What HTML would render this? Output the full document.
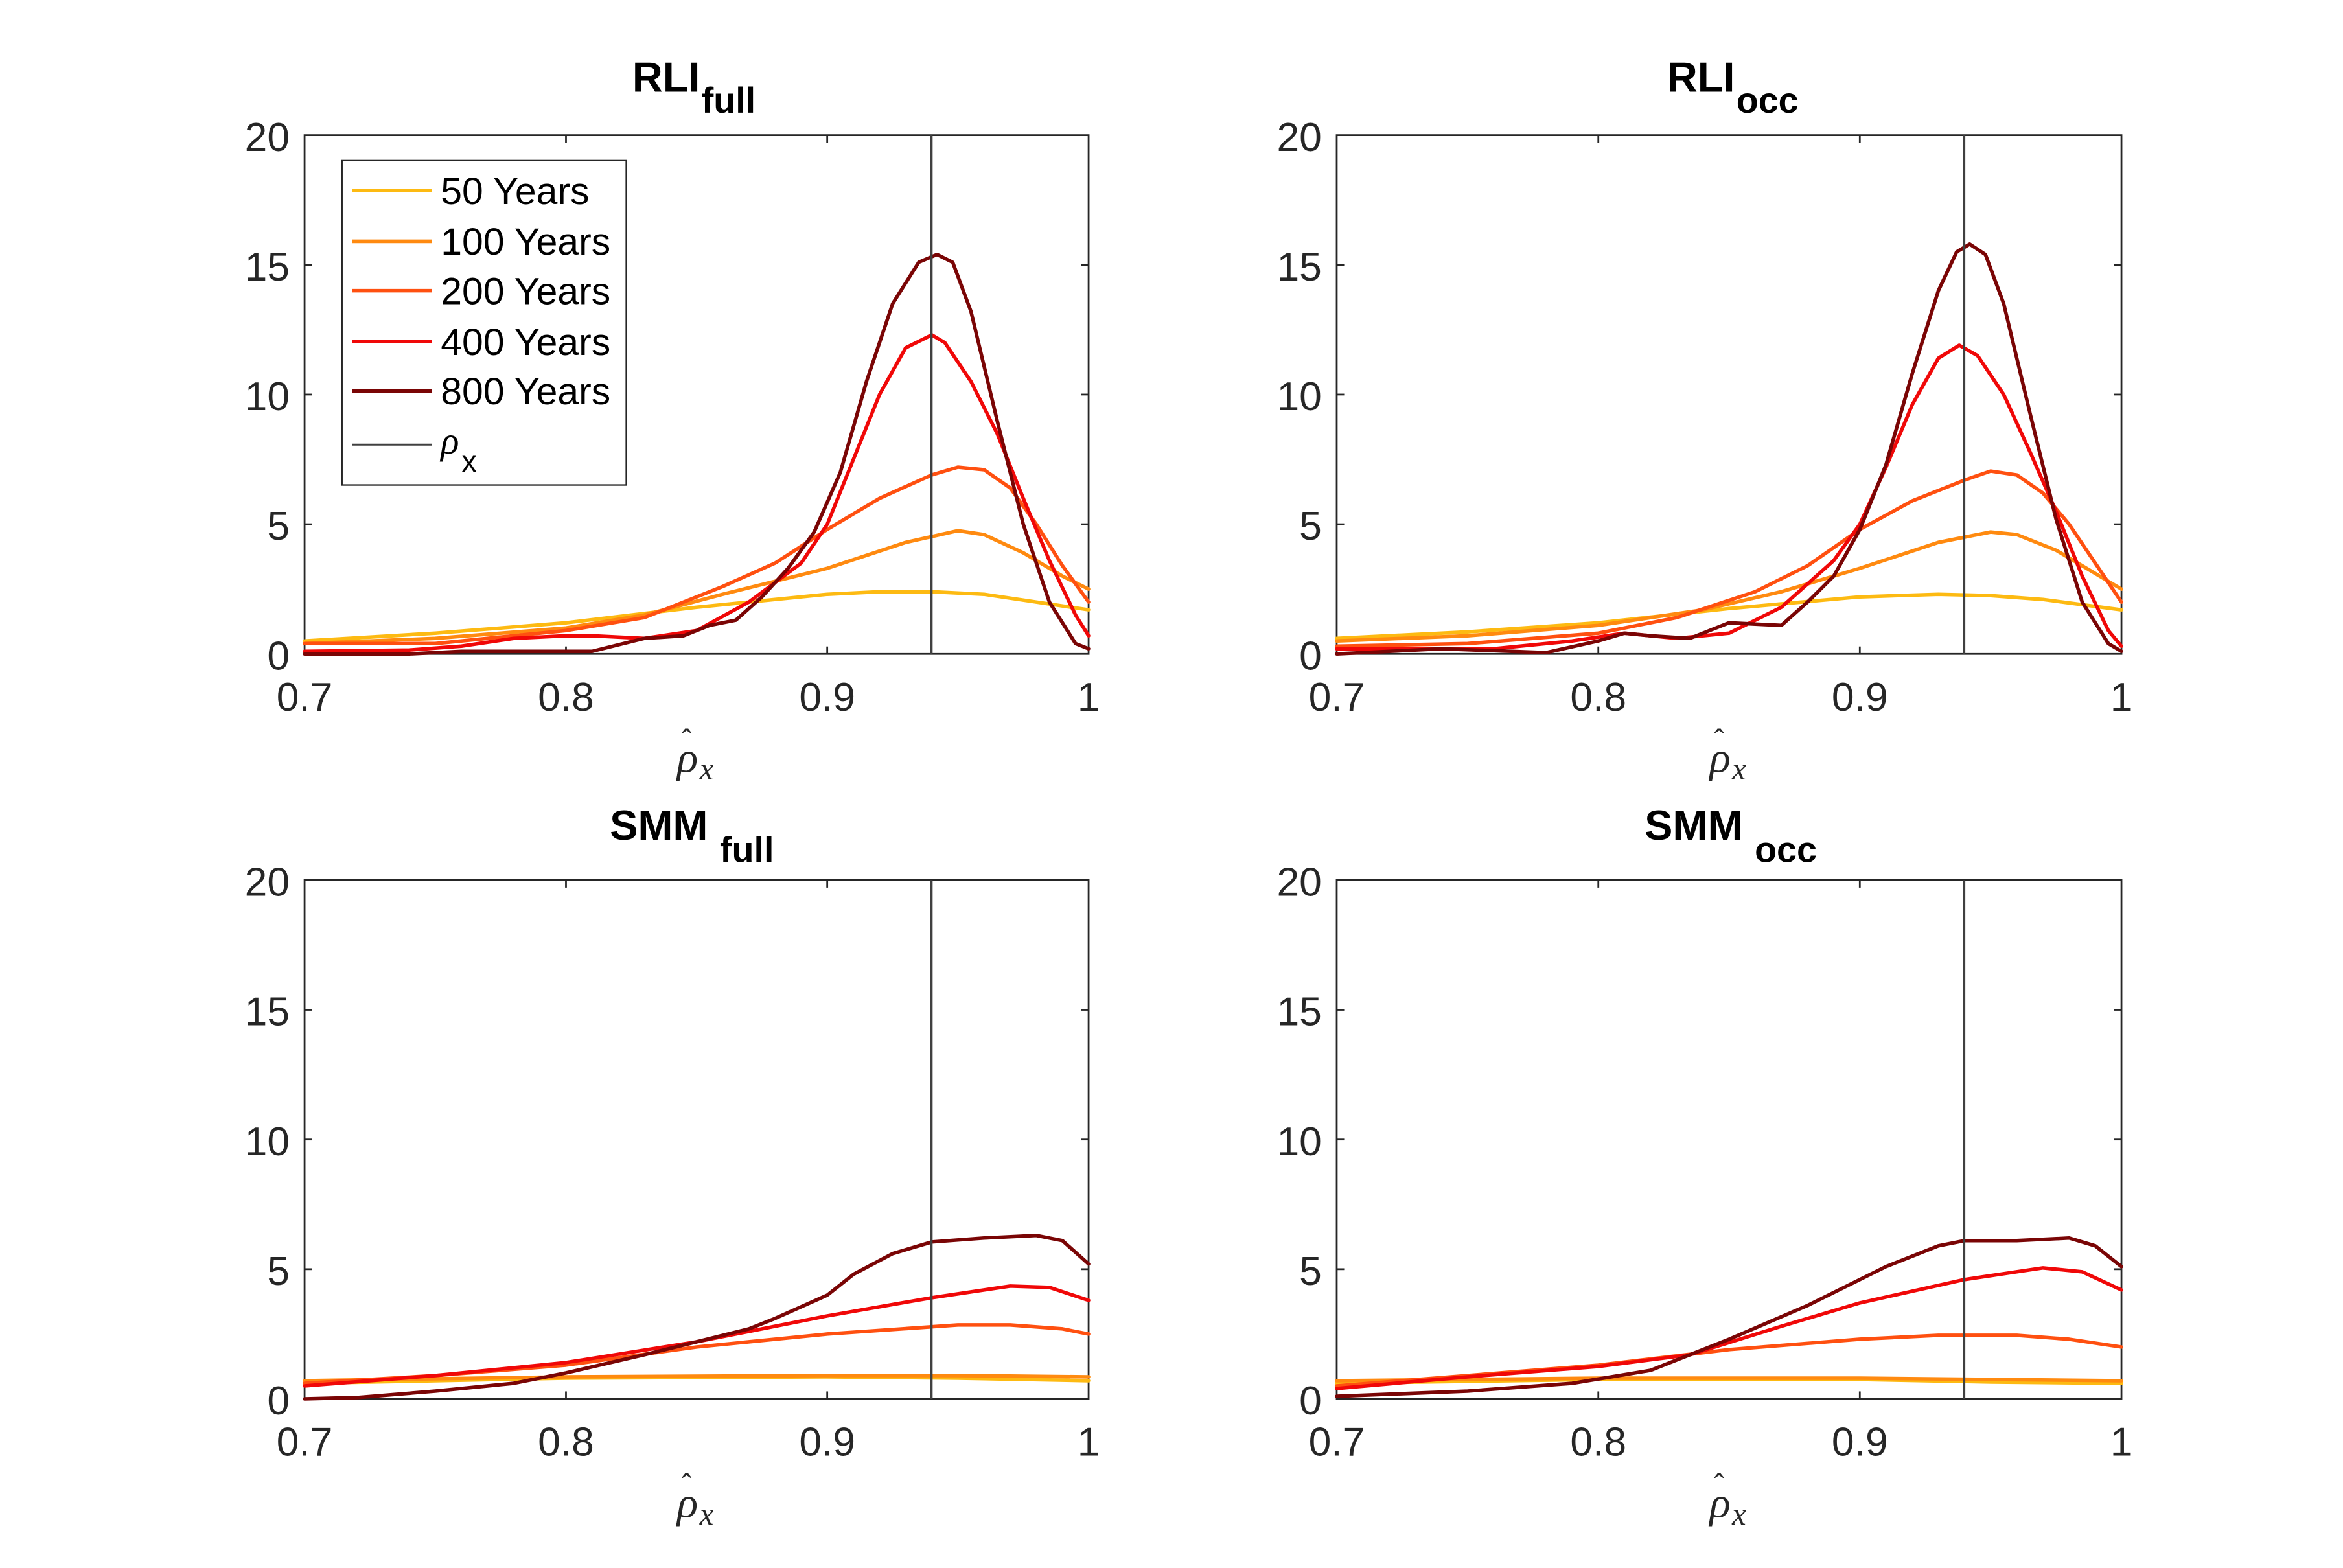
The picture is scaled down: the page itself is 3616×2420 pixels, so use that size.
<!DOCTYPE html>
<html><head><meta charset="utf-8"><style>html,body{margin:0;padding:0;background:#fff}svg{display:block}</style></head>
<body>
<svg width="3616" height="2420" viewBox="0 0 1560 1044" preserveAspectRatio="none" xmlns="http://www.w3.org/2000/svg" font-family="Liberation Sans, sans-serif">
<defs>
<g id="axes">
  <rect x="0" y="0" width="524" height="347" fill="#fff" stroke="#262626" stroke-width="1.2"/>
  <g stroke="#262626" stroke-width="1.2">
    <line x1="174.7" y1="347" x2="174.7" y2="342"/><line x1="349.3" y1="347" x2="349.3" y2="342"/>
    <line x1="174.7" y1="0" x2="174.7" y2="5"/><line x1="349.3" y1="0" x2="349.3" y2="5"/>
    <line x1="0" y1="260.25" x2="5" y2="260.25"/><line x1="0" y1="173.5" x2="5" y2="173.5"/><line x1="0" y1="86.75" x2="5" y2="86.75"/>
    <line x1="524" y1="260.25" x2="519" y2="260.25"/><line x1="524" y1="173.5" x2="519" y2="173.5"/><line x1="524" y1="86.75" x2="519" y2="86.75"/>
  </g>
  <g font-size="27" fill="#262626" text-anchor="middle">
    <text x="0" y="385">0.7</text><text x="174.7" y="385">0.8</text><text x="349.3" y="385">0.9</text><text x="524" y="385">1</text>
  </g>
  <g font-size="27" fill="#262626" text-anchor="end">
    <text x="-10" y="357.5">0</text><text x="-10" y="270.7">5</text><text x="-10" y="184">10</text><text x="-10" y="97.2">15</text><text x="-10" y="10.5">20</text>
  </g>
  <g font-family="Liberation Serif, serif" font-style="italic" fill="#262626">
    <text x="249" y="426" font-size="29">ρ</text><text x="252" y="411" font-size="20" font-style="normal">ˆ</text><text x="264" y="431" font-size="21">x</text>
  </g>
</g>
</defs>

<!-- TL -->
<g transform="translate(202.8,90) scale(0.9962,0.9954)">
  <use href="#axes"/>
  <g transform="translate(0,347) scale(1746.67,-17.35) translate(-0.7,0)" fill="none" stroke-width="5.5" stroke-linejoin="round" stroke-linecap="round">
    <polyline vector-effect="non-scaling-stroke" stroke="#FDBA12" points="0.7,0.5 0.75,0.8 0.8,1.2 0.85,1.8 0.9,2.3 0.92,2.4 0.94,2.4 0.96,2.3 0.98,2.0 1,1.7"/>
    <polyline vector-effect="non-scaling-stroke" stroke="#FF8A10" points="0.7,0.4 0.75,0.6 0.8,1.0 0.83,1.5 0.86,2.3 0.9,3.3 0.93,4.3 0.95,4.75 0.96,4.6 0.975,3.9 0.99,3.0 1,2.5"/>
    <polyline vector-effect="non-scaling-stroke" stroke="#FF5010" points="0.7,0.4 0.75,0.4 0.8,0.9 0.83,1.4 0.86,2.6 0.88,3.5 0.9,4.8 0.92,6.0 0.94,6.9 0.95,7.2 0.96,7.1 0.97,6.4 0.98,5.0 0.99,3.4 1,2.0"/>
    <polyline vector-effect="non-scaling-stroke" stroke="#F00808" points="0.7,0.1 0.74,0.15 0.76,0.3 0.78,0.6 0.8,0.7 0.81,0.7 0.83,0.6 0.85,0.9 0.87,2 0.89,3.5 0.9,5 0.91,7.5 0.92,10 0.93,11.8 0.94,12.3 0.945,12 0.955,10.5 0.965,8.5 0.975,6.0 0.985,3.6 0.995,1.5 1,0.7"/>
    <polyline vector-effect="non-scaling-stroke" stroke="#7A0505" points="0.7,0 0.74,0 0.76,0.1 0.8,0.1 0.81,0.1 0.83,0.6 0.845,0.7 0.855,1.1 0.865,1.3 0.875,2.2 0.885,3.3 0.895,4.7 0.905,7 0.915,10.5 0.925,13.5 0.935,15.1 0.942,15.4 0.948,15.1 0.955,13.2 0.965,9.0 0.975,5.0 0.985,2.0 0.995,0.4 1,0.2"/>
  </g>
  <line x1="419" y1="0" x2="419" y2="347" stroke="#404040" stroke-width="1.5"/>
  <rect x="25" y="17" width="190" height="217" fill="#fff" stroke="#262626" stroke-width="1"/>
  <g stroke-width="2.4">
    <line x1="32" y1="37" x2="85" y2="37" stroke="#FDBA12"/>
    <line x1="32" y1="71" x2="85" y2="71" stroke="#FF8A10"/>
    <line x1="32" y1="104" x2="85" y2="104" stroke="#FF5010"/>
    <line x1="32" y1="138" x2="85" y2="138" stroke="#F00808"/>
    <line x1="32" y1="171" x2="85" y2="171" stroke="#7A0505"/>
    <line x1="32" y1="207" x2="85" y2="207" stroke="#404040" stroke-width="1.3"/>
  </g>
  <g font-size="25.5" fill="#000">
    <text x="91" y="46">50 Years</text><text x="91" y="80">100 Years</text><text x="91" y="113">200 Years</text><text x="91" y="147">400 Years</text><text x="91" y="180">800 Years</text>
    <text x="91" y="213" font-family="Liberation Serif, serif" font-style="italic">ρ</text><text x="105" y="225" font-size="20">x</text>
  </g>
</g>
<text x="421" y="61" font-size="28" font-weight="bold">RLI<tspan dx="1" dy="14" font-size="24">full</tspan></text>

<!-- TR -->
<g transform="translate(890,90) scale(0.9971,0.9954)">
  <use href="#axes"/>
  <g transform="translate(0,347) scale(1746.67,-17.35) translate(-0.7,0)" fill="none" stroke-width="5.5" stroke-linejoin="round" stroke-linecap="round">
    <polyline vector-effect="non-scaling-stroke" stroke="#FDBA12" points="0.7,0.6 0.75,0.85 0.8,1.2 0.85,1.75 0.9,2.2 0.93,2.3 0.95,2.25 0.97,2.1 1,1.7"/>
    <polyline vector-effect="non-scaling-stroke" stroke="#FF8A10" points="0.7,0.5 0.75,0.7 0.8,1.1 0.84,1.7 0.87,2.4 0.9,3.3 0.93,4.3 0.95,4.7 0.96,4.6 0.975,4.0 0.99,3.1 1,2.5"/>
    <polyline vector-effect="non-scaling-stroke" stroke="#FF5010" points="0.7,0.3 0.75,0.4 0.8,0.8 0.83,1.4 0.86,2.4 0.88,3.4 0.9,4.8 0.92,5.9 0.94,6.7 0.95,7.05 0.96,6.9 0.97,6.2 0.98,5.0 0.99,3.5 1,2.0"/>
    <polyline vector-effect="non-scaling-stroke" stroke="#F00808" points="0.7,0.2 0.76,0.2 0.79,0.5 0.81,0.8 0.83,0.6 0.85,0.8 0.87,1.8 0.89,3.6 0.9,5 0.91,7.2 0.92,9.6 0.93,11.4 0.938,11.9 0.945,11.5 0.955,10 0.965,7.8 0.975,5.5 0.985,3.0 0.995,0.9 1,0.3"/>
    <polyline vector-effect="non-scaling-stroke" stroke="#7A0505" points="0.7,0 0.74,0.2 0.78,0.05 0.8,0.5 0.81,0.8 0.82,0.7 0.835,0.6 0.85,1.2 0.87,1.1 0.88,2.0 0.89,3.0 0.9,4.8 0.91,7.3 0.92,10.8 0.93,14.0 0.937,15.5 0.942,15.8 0.948,15.4 0.955,13.5 0.965,9.3 0.975,5.2 0.985,2.0 0.995,0.4 1,0.1"/>
  </g>
  <line x1="419" y1="0" x2="419" y2="347" stroke="#404040" stroke-width="1.5"/>
</g>
<text x="1110" y="61" font-size="28" font-weight="bold">RLI<tspan dx="1" dy="14" font-size="24">occ</tspan></text>

<!-- BL -->
<g transform="translate(202.8,586) scale(0.9962,0.9954)">
  <use href="#axes"/>
  <g transform="translate(0,347) scale(1746.67,-17.35) translate(-0.7,0)" fill="none" stroke-width="5.5" stroke-linejoin="round" stroke-linecap="round">
    <polyline vector-effect="non-scaling-stroke" stroke="#FDBA12" points="0.7,0.6 0.8,0.8 0.9,0.85 0.95,0.8 1,0.7"/>
    <polyline vector-effect="non-scaling-stroke" stroke="#FF8A10" points="0.7,0.7 0.8,0.85 0.9,0.9 0.95,0.9 1,0.85"/>
    <polyline vector-effect="non-scaling-stroke" stroke="#FF5010" points="0.7,0.6 0.75,0.9 0.8,1.3 0.85,2.0 0.9,2.5 0.95,2.85 0.97,2.85 0.99,2.7 1,2.5"/>
    <polyline vector-effect="non-scaling-stroke" stroke="#F00808" points="0.7,0.5 0.75,0.9 0.8,1.4 0.85,2.2 0.9,3.2 0.94,3.9 0.97,4.35 0.985,4.3 1,3.8"/>
    <polyline vector-effect="non-scaling-stroke" stroke="#7A0505" points="0.7,0 0.72,0.05 0.75,0.3 0.78,0.6 0.8,1.0 0.83,1.7 0.85,2.2 0.87,2.7 0.88,3.1 0.9,4.0 0.91,4.8 0.925,5.6 0.94,6.05 0.96,6.2 0.98,6.3 0.99,6.1 1,5.2"/>
  </g>
  <line x1="419" y1="0" x2="419" y2="347" stroke="#404040" stroke-width="1.5"/>
</g>
<text x="406" y="559" font-size="28" font-weight="bold">SMM<tspan dx="8" dy="15" font-size="24">full</tspan></text>

<!-- BR -->
<g transform="translate(890,586) scale(0.9971,0.9954)">
  <use href="#axes"/>
  <g transform="translate(0,347) scale(1746.67,-17.35) translate(-0.7,0)" fill="none" stroke-width="5.5" stroke-linejoin="round" stroke-linecap="round">
    <polyline vector-effect="non-scaling-stroke" stroke="#FDBA12" points="0.7,0.6 0.8,0.75 0.9,0.75 0.95,0.65 1,0.6"/>
    <polyline vector-effect="non-scaling-stroke" stroke="#FF8A10" points="0.7,0.7 0.8,0.8 0.9,0.8 0.95,0.75 1,0.7"/>
    <polyline vector-effect="non-scaling-stroke" stroke="#FF5010" points="0.7,0.5 0.75,0.9 0.8,1.3 0.85,1.9 0.9,2.3 0.93,2.45 0.96,2.45 0.98,2.3 1,2.0"/>
    <polyline vector-effect="non-scaling-stroke" stroke="#F00808" points="0.7,0.4 0.75,0.85 0.8,1.25 0.835,1.7 0.87,2.8 0.9,3.7 0.94,4.6 0.97,5.05 0.985,4.9 1,4.2"/>
    <polyline vector-effect="non-scaling-stroke" stroke="#7A0505" points="0.7,0.1 0.75,0.3 0.79,0.6 0.82,1.1 0.85,2.3 0.88,3.6 0.91,5.1 0.93,5.9 0.94,6.1 0.96,6.1 0.98,6.2 0.99,5.9 1,5.1"/>
  </g>
  <line x1="419" y1="0" x2="419" y2="347" stroke="#404040" stroke-width="1.5"/>
</g>
<text x="1095" y="559" font-size="28" font-weight="bold">SMM<tspan dx="8" dy="15" font-size="24">occ</tspan></text>
</svg>
</body></html>
